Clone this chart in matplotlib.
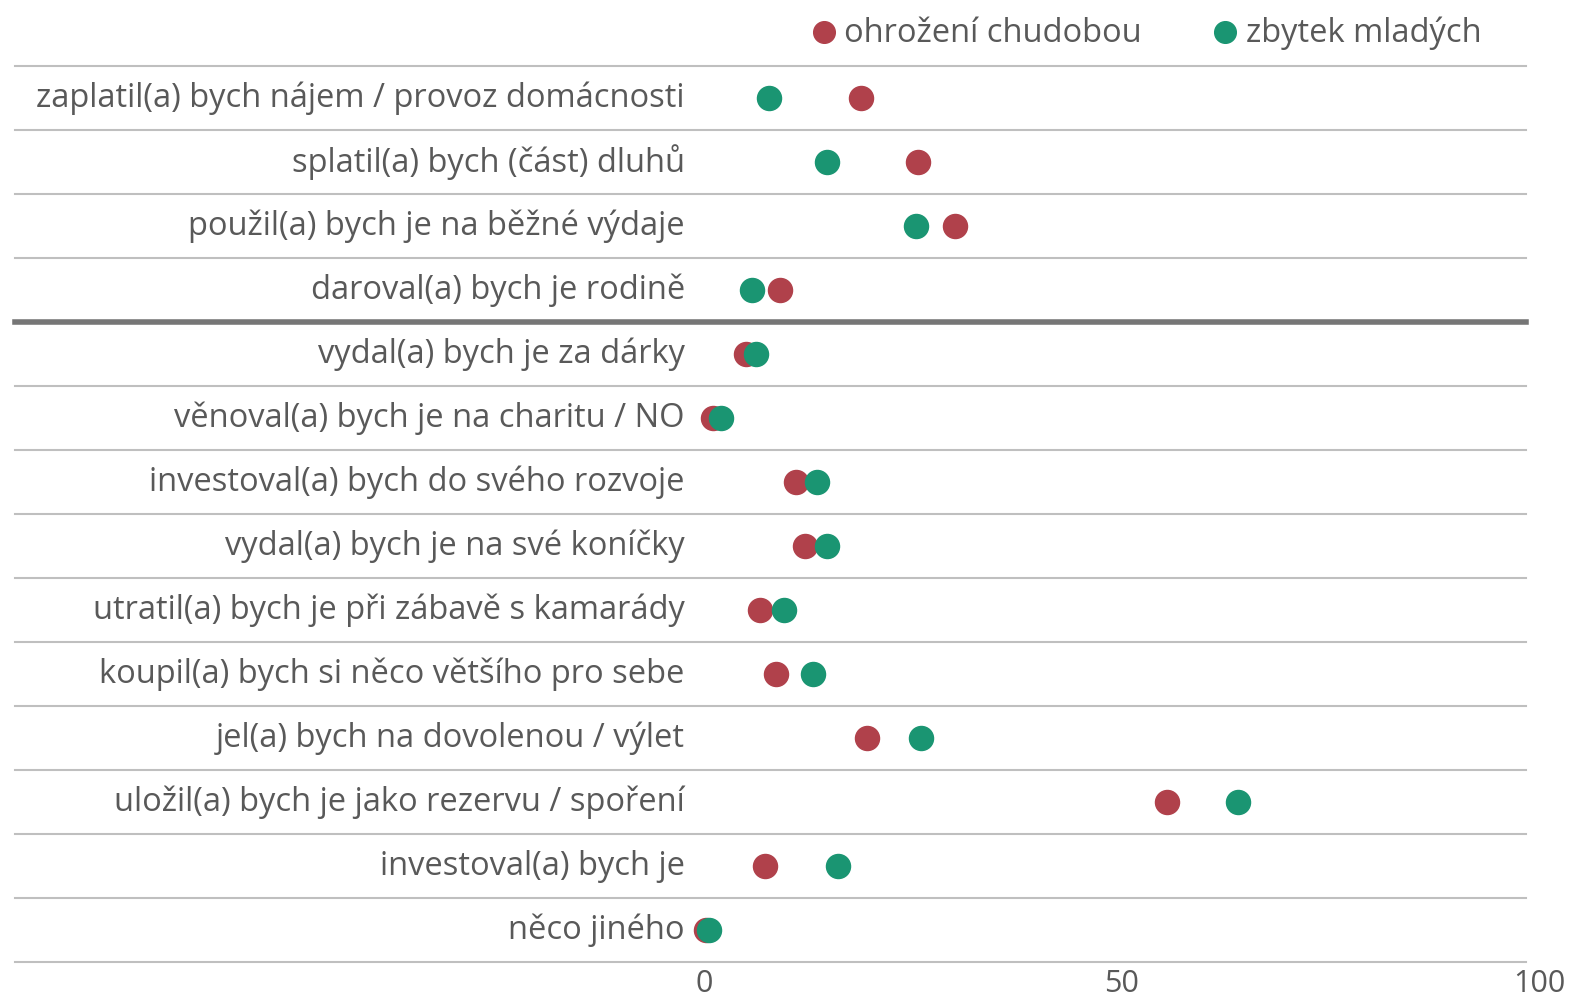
import matplotlib.pyplot as plt

# Data (share of respondents, %)
categories = [
    'zaplatil(a) bych nájem / provoz domácnosti',
    'splatil(a) bych (část) dluhů',
    'použil(a) bych je na běžné výdaje',
    'daroval(a) bych je rodině',
    'vydal(a) bych je za dárky',
    'věnoval(a) bych je na charitu / NO',
    'investoval(a) bych do svého rozvoje',
    'vydal(a) bych je na své koníčky',
    'utratil(a) bych je při zábavě s kamarády',
    'koupil(a) bych si něco většího pro sebe',
    'jel(a) bych na dovolenou / výlet',
    'uložil(a) bych je jako rezervu / spoření',
    'investoval(a) bych je',
    'něco jiného',
]
poverty = [18.8, 25.6, 30.1, 9.1, 5.0, 1.1, 11.0, 12.1, 6.7, 8.6, 19.5, 55.5, 7.3, 0.2]
rest = [7.8, 14.7, 25.4, 5.7, 6.2, 2.0, 13.5, 14.7, 9.6, 13.0, 26.0, 64.0, 16.1, 0.6]
x_ticks = [0, 50, 100]

red = '#B0414B'
green = '#1A9572'
grey = '#595959'

W, H = 1575, 1003
fig = plt.figure(figsize=(W / 100, H / 100), dpi=100)
plt.rcParams['font.family'] = ['Open Sans', 'DejaVu Sans']

# axes: x=0 at 704 px, x=100 at 1539 px; rows between 65 and 961 px
x0, x100 = 704, 1539
top, bottom = 66.5, 962.5
ax = fig.add_axes([x0 / W, 1 - bottom / H, (x100 - x0) / W, (bottom - top) / H])
ax.set_xlim(0, 100)
n = len(categories)
ax.set_ylim(n + 0.5, 0.5)
ypos = list(range(1, n + 1))

# gridlines spanning label area too
px = (x100 - x0) / 100
gl_left = (15 - x0) / px
gl_right = (1526 - x0) / px
for i in range(n + 1):
    y = i + 0.5
    if i == 4:
        ax.plot([gl_left, gl_right], [y, y], color='#767676', lw=4, clip_on=False, zorder=1)
    else:
        ax.plot([gl_left, gl_right], [y, y], color='#BFBFBF', lw=1.5, clip_on=False, zorder=1)

ax.scatter(poverty, ypos, s=300, color=red, zorder=3, clip_on=False, label='ohrožení chudobou')
ax.scatter(rest, ypos, s=300, color=green, zorder=4, clip_on=False, label='zbytek mladých')

for y, c in zip(ypos, categories):
    ax.text(-2.3, y, c, ha='right', va='center', fontsize=23.5, color=grey)

ax.set_xticks(x_ticks)
ax.set_xticklabels([str(t) for t in x_ticks], fontsize=22, color=grey)
ax.tick_params(axis='x', length=0, pad=5)
ax.set_yticks([])
for s in ax.spines.values():
    s.set_visible(False)

fig.legend(loc='upper left', bbox_to_anchor=(778 / W, 1 - 3 / H), ncol=2, frameon=False,
           fontsize=23.5, labelcolor=grey, handletextpad=-0.38, columnspacing=1.57,
           markerscale=0.9, borderaxespad=0)

fig.savefig('out.png', dpi=100)
